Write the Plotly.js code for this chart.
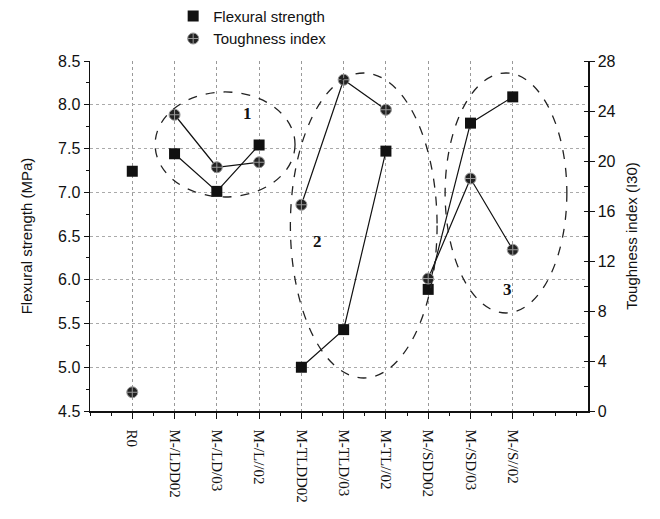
<!DOCTYPE html>
<html><head><meta charset="utf-8">
<script src="https://cdn.plot.ly/plotly-3.0.1.min.js"></script>
<style>html,body{margin:0;padding:0;background:#fff}</style>
</head><body>
<div id="chart" style="width:660px;height:519px"></div>
<script>
const categories = ["R0","M-/LDD02","M-/LD/03","M-/L//02","M-TLDD02","M-TLD/03","M-TL//02","M-/SDD02","M-/SD/03","M-/S//02"];
const flexural = [7.24, 7.44, 7.01, 7.54, 5.00, 5.43, 7.47, 5.89, 7.79, 8.09];
const toughness = [1.5, 23.7, 19.5, 19.9, 16.5, 26.5, 24.1, 10.6, 18.6, 12.9];
const groups = [[1,2,3],[4,5,6],[7,8,9]];
const groupLabels = ["1","2","3"];

const idx = categories.map((c,i)=>i);
const traces = [];
groups.forEach(g=>{
  traces.push({x:g, y:g.map(i=>flexural[i]), mode:'lines', line:{color:'#111',width:1.2}, showlegend:false, hoverinfo:'skip'});
  traces.push({x:g, y:g.map(i=>toughness[i]), yaxis:'y2', mode:'lines', line:{color:'#111',width:1.2}, showlegend:false, hoverinfo:'skip'});
});
traces.push({x:idx, y:flexural, mode:'markers', name:'Flexural strength',
  marker:{symbol:'square', size:11, color:'#111'}});
traces.push({x:idx, y:toughness, yaxis:'y2', mode:'markers', name:'Toughness index',
  marker:{symbol:'circle-cross', size:11, color:'#222', line:{color:'#999', width:1}}});

const ell = (x0,x1,y0,y1)=>({type:'circle', xref:'x', yref:'y', x0, x1, y0, y1,
  line:{color:'#222', width:1.3, dash:'dash'}});
const labelPos = [[2.72,7.9],[4.37,6.44],[8.88,5.89]];

const layout = {
  width:660, height:519,
  margin:{l:90, r:72, t:61, b:108, autoexpand:false},
  paper_bgcolor:'#fff', plot_bgcolor:'#fff',
  font:{family:'Liberation Sans, Arial, sans-serif', size:15, color:'#111'},
  showlegend:true,
  legend:{x:0.167, y:1.175, xanchor:'left', yanchor:'top', bgcolor:'rgba(0,0,0,0)', font:{size:15}, tracegroupgap:0},
  xaxis:{range:[-1,10.78], tickmode:'array', tickvals:idx, ticktext:categories, tickangle:90,
    tickfont:{family:'Liberation Serif, Times New Roman, serif', size:15},
    ticklabelstandoff:8,
    showline:true, linecolor:'#111', linewidth:1.5, ticks:'outside', ticklen:6, tickcolor:'#111',
    minor:{dtick:0.5, tick0:0.5, ticks:'outside', ticklen:3, tickcolor:'#111', showgrid:false},
    showgrid:true, gridcolor:'#999', griddash:'dot', gridwidth:1, zeroline:false, mirror:false},
  yaxis:{range:[4.5,8.5], dtick:0.5, tickformat:'.1f', showline:true, linecolor:'#111', linewidth:1.5,
    ticks:'outside', ticklen:5, tickcolor:'#111', tickfont:{size:16},
    minor:{dtick:0.25, ticks:'outside', ticklen:3, tickcolor:'#111'},
    showgrid:true, gridcolor:'#aaa', griddash:'dot', zeroline:false,
    title:{text:'Flexural strength (MPa)', font:{size:15}, standoff:22}},
  yaxis2:{range:[0,28], dtick:4, overlaying:'y', side:'right', showline:true, linecolor:'#111', linewidth:1.5,
    ticks:'outside', ticklen:5, tickcolor:'#111', tickfont:{size:16},
    minor:{dtick:2, ticks:'inside', ticklen:4, tickcolor:'#111'},
    showgrid:false, zeroline:false,
    title:{text:'Toughness index (I30)', font:{size:15}, standoff:12}},
  shapes:[ell(0.54,3.85,6.946,8.146), ell(3.74,7.21,4.877,8.363), ell(7.40,10.28,5.62,8.363)],
  annotations: groupLabels.map((t,i)=>({x:labelPos[i][0], y:labelPos[i][1], xref:'x', yref:'y', text:'<b>'+t+'</b>', showarrow:false,
    font:{family:'Liberation Serif, Times New Roman, serif', size:17, color:'#111'}}))
};
Plotly.newPlot('chart', traces, layout, {displayModeBar:false, staticPlot:true});
</script>
</body></html>
